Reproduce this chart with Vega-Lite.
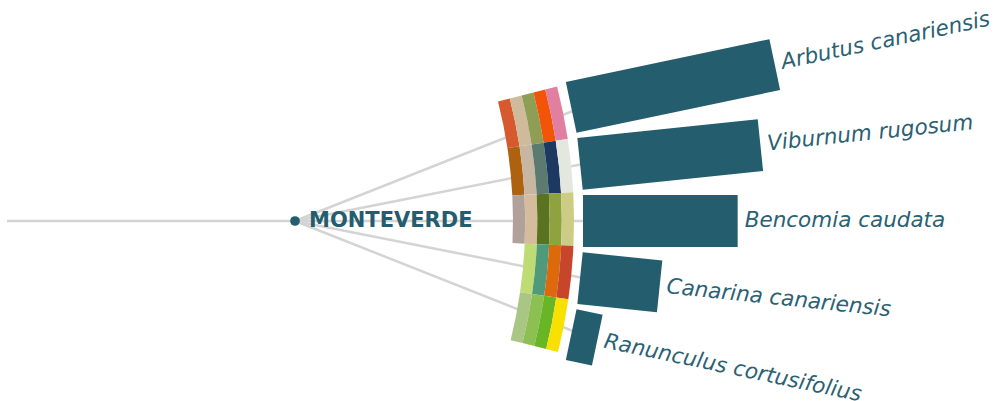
{
  "$schema": "https://vega.github.io/schema/vega-lite/v6.json",
  "width": 60,
  "height": 360,
  "autosize": {"type": "none"},
  "padding": {"left": 0, "top": 41, "right": 939, "bottom": 0},
  "background": "white",
  "config": {"view": {"stroke": null}},
  "datasets": {
    "species": [
      {"species": "Arbutus canariensis", "rank": 0, "value": 39},
      {"species": "Viburnum rugosum", "rank": 1, "value": 34},
      {"species": "Bencomia caudata", "rank": 2, "value": 29},
      {"species": "Canarina canariensis", "rank": 3, "value": 15},
      {"species": "Ranunculus cortusifolius", "rank": 4, "value": 5}
    ],
    "cells": [
      {"rank": 0, "ring": 0, "swatch": "A1"},
      {"rank": 0, "ring": 1, "swatch": "A2"},
      {"rank": 0, "ring": 2, "swatch": "A3"},
      {"rank": 0, "ring": 3, "swatch": "A4"},
      {"rank": 0, "ring": 4, "swatch": "A5"},
      {"rank": 1, "ring": 0, "swatch": "V1"},
      {"rank": 1, "ring": 1, "swatch": "V2"},
      {"rank": 1, "ring": 2, "swatch": "V3"},
      {"rank": 1, "ring": 3, "swatch": "V4"},
      {"rank": 1, "ring": 4, "swatch": "V5"},
      {"rank": 2, "ring": 0, "swatch": "B1"},
      {"rank": 2, "ring": 1, "swatch": "B2"},
      {"rank": 2, "ring": 2, "swatch": "B3"},
      {"rank": 2, "ring": 3, "swatch": "B4"},
      {"rank": 2, "ring": 4, "swatch": "B5"},
      {"rank": 3, "ring": 1, "swatch": "C1"},
      {"rank": 3, "ring": 2, "swatch": "C2"},
      {"rank": 3, "ring": 3, "swatch": "C3"},
      {"rank": 3, "ring": 4, "swatch": "C4"},
      {"rank": 4, "ring": 1, "swatch": "R1"},
      {"rank": 4, "ring": 2, "swatch": "R2"},
      {"rank": 4, "ring": 3, "swatch": "R3"},
      {"rank": 4, "ring": 4, "swatch": "R4"}
    ],
    "links": [
      {"link": "MONTEVERDE", "depth": -1, "breadth": 2},
      {"link": "MONTEVERDE", "depth": 0, "breadth": 2},
      {"link": "Arbutus canariensis", "depth": 0, "breadth": 2},
      {"link": "Arbutus canariensis", "depth": 1, "breadth": 0},
      {"link": "Viburnum rugosum", "depth": 0, "breadth": 2},
      {"link": "Viburnum rugosum", "depth": 1, "breadth": 1},
      {"link": "Bencomia caudata", "depth": 0, "breadth": 2},
      {"link": "Bencomia caudata", "depth": 1, "breadth": 2},
      {"link": "Canarina canariensis", "depth": 0, "breadth": 2},
      {"link": "Canarina canariensis", "depth": 1, "breadth": 3},
      {"link": "Ranunculus cortusifolius", "depth": 0, "breadth": 2},
      {"link": "Ranunculus cortusifolius", "depth": 1, "breadth": 4}
    ],
    "origin": [
      {"name": "MONTEVERDE", "depth": 0, "breadth": 2}
    ]
  },
  "layer": [
    {
      "data": {"name": "links"},
      "mark": {"type": "line", "stroke": "#d4d4d4", "strokeWidth": 2.5, "strokeCap": "butt"},
      "encoding": {
        "x": {"field": "depth", "type": "quantitative", "scale": {"domain": [0, 1], "range": [295, 583]}, "axis": null},
        "y": {"field": "breadth", "type": "quantitative", "scale": {"domain": [0, 4], "range": [66, 294]}, "axis": null},
        "detail": {"field": "link", "type": "nominal"}
      }
    },
    {
      "data": {"name": "cells"},
      "mark": {"type": "arc", "thetaOffset": -0.049306, "theta2Offset": 0.049306, "radius2Offset": 12.2},
      "encoding": {
        "theta": {"field": "rank", "type": "quantitative", "stack": null, "scale": {"domain": [0, 4], "range": [1.370083, 1.764528]}},
        "theta2": {"field": "rank"},
        "radius": {"field": "ring", "type": "quantitative", "scale": {"type": "linear", "zero": false, "domain": [0, 5], "range": [483, 544]}},
        "radius2": {"field": "ring"},
        "color": {
          "field": "swatch", "type": "nominal", "legend": null,
          "scale": {
            "domain": ["A1","A2","A3","A4","A5","V1","V2","V3","V4","V5","B1","B2","B3","B4","B5","C1","C2","C3","C4","R1","R2","R3","R4"],
            "range": ["#d65a2e","#cfbb9c","#8e9e55","#f25408","#e07fa0","#ae610f","#c7b6a2","#5b7b70","#1d3861","#e4e7de","#b0a29b","#d4bc9c","#5a7320","#8ea33e","#cbcd84","#bfdc74","#4f9a7a","#dc6a0c","#c7462b","#aac685","#8dc053","#68b625","#f8e000"]
          }
        }
      }
    },
    {
      "data": {"name": "species"},
      "mark": {"type": "arc", "filled": false, "stroke": "#245d6e", "strokeWidth": 52, "strokeJoin": "bevel", "strokeOpacity": 1},
      "encoding": {
        "theta": {"field": "rank", "type": "quantitative", "stack": null, "scale": {"domain": [0, 4], "range": [1.363796, 1.777796]}},
        "theta2": {"field": "rank"},
        "radius": {"field": "value", "type": "quantitative", "scale": {"type": "linear", "zero": false, "domain": [0, 39], "range": [553, 761]}},
        "radius2": {"datum": 0}
      }
    },
    {
      "data": {"name": "species"},
      "mark": {"type": "text", "align": "left", "baseline": "middle", "dx": 7, "font": "DejaVu Sans", "fontStyle": "italic", "fontSize": 21.5, "color": "#2a6173"},
      "encoding": {
        "theta": {"field": "rank", "type": "quantitative", "stack": null, "scale": {"domain": [0, 4], "range": [1.363796, 1.777796]}},
        "radius": {"field": "value", "type": "quantitative", "scale": {"type": "linear", "zero": false, "domain": [0, 39], "range": [553, 761]}},
        "angle": {"field": "rank", "type": "quantitative", "scale": {"domain": [0, 4], "range": [-11.86, 11.86]}},
        "text": {"field": "species"}
      }
    },
    {
      "data": {"name": "origin"},
      "mark": {"type": "point", "filled": true, "size": 95, "color": "#245d6e", "opacity": 1},
      "encoding": {
        "x": {"field": "depth", "type": "quantitative"},
        "y": {"field": "breadth", "type": "quantitative"}
      }
    },
    {
      "data": {"name": "origin"},
      "mark": {"type": "text", "align": "left", "baseline": "middle", "dx": 14, "font": "DejaVu Sans", "fontWeight": "bold", "fontSize": 21, "color": "#245d6e"},
      "encoding": {
        "x": {"field": "depth", "type": "quantitative"},
        "y": {"field": "breadth", "type": "quantitative"},
        "text": {"field": "name"}
      }
    }
  ],
  "resolve": {"scale": {"theta": "independent", "radius": "independent"}}
}
